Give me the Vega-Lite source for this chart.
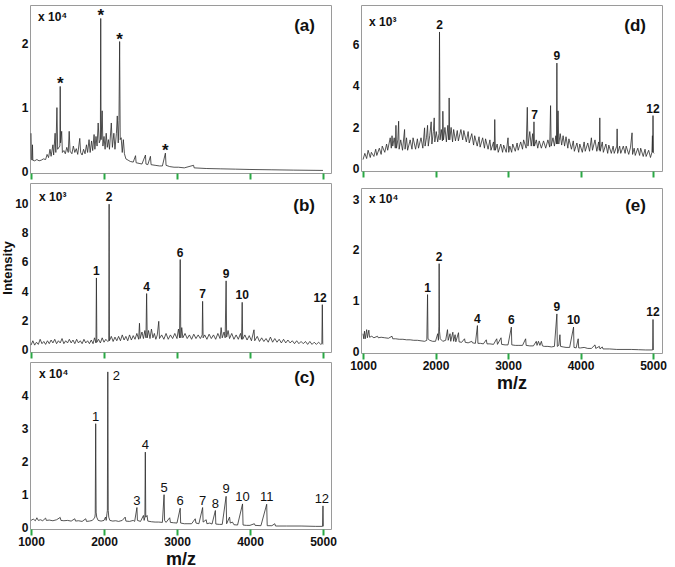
{
"$schema": "https://vega.github.io/schema/vega-lite/v6.json",
"padding": {"left": 1, "top": 4, "right": 5, "bottom": 2},
"background": "white",
"datasets": {
"a": [{"mz":1000,"y":0.6},{"mz":1005,"y":0.2},{"mz":1015,"y":0.18},{"mz":1020,"y":0.42},{"mz":1025,"y":0.18},{"mz":1050,"y":0.17},{"mz":1080,"y":0.19},{"mz":1110,"y":0.17},{"mz":1140,"y":0.18},{"mz":1170,"y":0.2},{"mz":1200,"y":0.19},{"mz":1220,"y":0.27},{"mz":1240,"y":0.22},{"mz":1260,"y":0.35},{"mz":1275,"y":0.24},{"mz":1300,"y":0.42},{"mz":1310,"y":0.26},{"mz":1330,"y":0.6},{"mz":1340,"y":0.3},{"mz":1355,"y":1.0},{"mz":1365,"y":0.35},{"mz":1395,"y":0.4},{"mz":1400,"y":1.33},{"mz":1405,"y":0.45},{"mz":1420,"y":0.63},{"mz":1430,"y":0.3},{"mz":1450,"y":0.33},{"mz":1470,"y":0.28},{"mz":1490,"y":0.38},{"mz":1510,"y":0.3},{"mz":1523,"y":0.63},{"mz":1535,"y":0.32},{"mz":1560,"y":0.28},{"mz":1580,"y":0.4},{"mz":1600,"y":0.3},{"mz":1620,"y":0.36},{"mz":1640,"y":0.27},{"mz":1668,"y":0.52},{"mz":1680,"y":0.3},{"mz":1700,"y":0.26},{"mz":1720,"y":0.35},{"mz":1740,"y":0.28},{"mz":1760,"y":0.42},{"mz":1775,"y":0.3},{"mz":1795,"y":0.5},{"mz":1810,"y":0.3},{"mz":1830,"y":0.48},{"mz":1845,"y":0.33},{"mz":1864,"y":0.58},{"mz":1875,"y":0.35},{"mz":1890,"y":0.55},{"mz":1905,"y":0.4},{"mz":1920,"y":0.76},{"mz":1935,"y":0.45},{"mz":1950,"y":0.5},{"mz":1955,"y":2.39},{"mz":1960,"y":0.5},{"mz":1975,"y":0.95},{"mz":1985,"y":0.4},{"mz":2000,"y":0.55},{"mz":2015,"y":0.35},{"mz":2030,"y":0.6},{"mz":2045,"y":0.38},{"mz":2060,"y":0.5},{"mz":2075,"y":0.35},{"mz":2100,"y":0.76},{"mz":2115,"y":0.38},{"mz":2135,"y":0.6},{"mz":2150,"y":0.35},{"mz":2170,"y":0.6},{"mz":2182,"y":0.87},{"mz":2195,"y":0.45},{"mz":2205,"y":0.8},{"mz":2214,"y":2.03},{"mz":2222,"y":0.5},{"mz":2235,"y":0.53},{"mz":2250,"y":0.3},{"mz":2265,"y":0.5},{"mz":2280,"y":0.28},{"mz":2300,"y":0.2},{"mz":2330,"y":0.18},{"mz":2360,"y":0.16},{"mz":2400,"y":0.15},{"mz":2432,"y":0.25},{"mz":2440,"y":0.14},{"mz":2480,"y":0.13},{"mz":2520,"y":0.12},{"mz":2568,"y":0.26},{"mz":2575,"y":0.12},{"mz":2600,"y":0.11},{"mz":2636,"y":0.24},{"mz":2645,"y":0.11},{"mz":2700,"y":0.1},{"mz":2760,"y":0.09},{"mz":2800,"y":0.09},{"mz":2841,"y":0.29},{"mz":2850,"y":0.1},{"mz":2900,"y":0.08},{"mz":2960,"y":0.07},{"mz":3020,"y":0.07},{"mz":3100,"y":0.06},{"mz":3227,"y":0.1},{"mz":3235,"y":0.06},{"mz":3400,"y":0.05},{"mz":3600,"y":0.045},{"mz":3800,"y":0.04},{"mz":4000,"y":0.035},{"mz":4300,"y":0.03},{"mz":4600,"y":0.025},{"mz":5000,"y":0.02}],
"aL": [{"mz":1400,"y":1.33,"t":"*"},{"mz":1955,"y":2.39,"t":"*"},{"mz":2214,"y":2.03,"t":"*"},{"mz":2841,"y":0.29,"t":"*"}],
"b": [{"mz":1000,"y":0.3},{"mz":1025,"y":0.6},{"mz":1050,"y":0.3},{"mz":1075,"y":0.5},{"mz":1100,"y":0.35},{"mz":1125,"y":0.7},{"mz":1150,"y":0.4},{"mz":1175,"y":0.55},{"mz":1200,"y":0.35},{"mz":1225,"y":0.6},{"mz":1250,"y":0.4},{"mz":1275,"y":0.65},{"mz":1300,"y":0.45},{"mz":1325,"y":0.7},{"mz":1350,"y":0.4},{"mz":1375,"y":0.6},{"mz":1400,"y":0.45},{"mz":1425,"y":0.75},{"mz":1450,"y":0.4},{"mz":1475,"y":0.6},{"mz":1500,"y":0.45},{"mz":1525,"y":0.7},{"mz":1550,"y":0.45},{"mz":1575,"y":0.65},{"mz":1600,"y":0.4},{"mz":1625,"y":0.7},{"mz":1650,"y":0.45},{"mz":1675,"y":0.6},{"mz":1700,"y":0.4},{"mz":1725,"y":0.7},{"mz":1750,"y":0.45},{"mz":1775,"y":0.6},{"mz":1800,"y":0.4},{"mz":1825,"y":0.65},{"mz":1850,"y":0.4},{"mz":1870,"y":0.8},{"mz":1890,"y":0.45},{"mz":1896,"y":4.9},{"mz":1902,"y":0.5},{"mz":1925,"y":0.7},{"mz":1950,"y":0.45},{"mz":1975,"y":0.8},{"mz":2000,"y":0.5},{"mz":2025,"y":0.7},{"mz":2050,"y":0.55},{"mz":2065,"y":0.6},{"mz":2070,"y":9.95},{"mz":2075,"y":0.6},{"mz":2100,"y":0.9},{"mz":2125,"y":0.55},{"mz":2150,"y":0.85},{"mz":2175,"y":0.6},{"mz":2200,"y":0.9},{"mz":2225,"y":0.6},{"mz":2250,"y":1.0},{"mz":2275,"y":0.65},{"mz":2300,"y":0.9},{"mz":2325,"y":0.6},{"mz":2350,"y":1.0},{"mz":2375,"y":0.65},{"mz":2400,"y":0.95},{"mz":2425,"y":0.7},{"mz":2450,"y":1.1},{"mz":2475,"y":0.7},{"mz":2486,"y":1.8},{"mz":2495,"y":0.75},{"mz":2520,"y":1.2},{"mz":2540,"y":0.75},{"mz":2560,"y":1.3},{"mz":2575,"y":0.8},{"mz":2584,"y":3.83},{"mz":2592,"y":0.8},{"mz":2610,"y":1.3},{"mz":2630,"y":0.75},{"mz":2650,"y":1.4},{"mz":2670,"y":0.8},{"mz":2690,"y":1.1},{"mz":2710,"y":0.7},{"mz":2730,"y":1.0},{"mz":2750,"y":1.93},{"mz":2760,"y":0.75},{"mz":2790,"y":1.0},{"mz":2820,"y":0.7},{"mz":2850,"y":1.1},{"mz":2880,"y":0.7},{"mz":2910,"y":1.0},{"mz":2940,"y":0.75},{"mz":2970,"y":1.1},{"mz":3000,"y":0.75},{"mz":3020,"y":1.4},{"mz":3035,"y":0.8},{"mz":3044,"y":6.16},{"mz":3052,"y":0.8},{"mz":3065,"y":1.5},{"mz":3080,"y":0.8},{"mz":3110,"y":1.1},{"mz":3140,"y":0.75},{"mz":3170,"y":1.0},{"mz":3200,"y":0.7},{"mz":3230,"y":1.05},{"mz":3260,"y":0.75},{"mz":3290,"y":1.0},{"mz":3320,"y":0.75},{"mz":3345,"y":1.0},{"mz":3351,"y":3.3},{"mz":3358,"y":0.8},{"mz":3380,"y":1.0},{"mz":3410,"y":0.7},{"mz":3440,"y":1.05},{"mz":3470,"y":0.75},{"mz":3500,"y":1.0},{"mz":3530,"y":0.7},{"mz":3560,"y":1.1},{"mz":3590,"y":0.75},{"mz":3605,"y":1.5},{"mz":3620,"y":0.8},{"mz":3645,"y":1.2},{"mz":3660,"y":0.8},{"mz":3673,"y":4.7},{"mz":3680,"y":0.85},{"mz":3700,"y":1.3},{"mz":3720,"y":0.75},{"mz":3750,"y":1.1},{"mz":3780,"y":0.7},{"mz":3810,"y":1.0},{"mz":3840,"y":0.7},{"mz":3870,"y":1.1},{"mz":3885,"y":0.7},{"mz":3893,"y":3.23},{"mz":3900,"y":0.7},{"mz":3930,"y":1.0},{"mz":3960,"y":0.65},{"mz":3990,"y":0.95},{"mz":4020,"y":0.6},{"mz":4055,"y":1.35},{"mz":4065,"y":0.6},{"mz":4100,"y":0.9},{"mz":4130,"y":0.55},{"mz":4160,"y":0.8},{"mz":4190,"y":0.55},{"mz":4220,"y":0.75},{"mz":4250,"y":0.5},{"mz":4280,"y":0.85},{"mz":4310,"y":0.5},{"mz":4340,"y":0.75},{"mz":4370,"y":0.5},{"mz":4400,"y":0.7},{"mz":4430,"y":0.45},{"mz":4460,"y":0.7},{"mz":4490,"y":0.45},{"mz":4520,"y":0.65},{"mz":4550,"y":0.45},{"mz":4580,"y":0.6},{"mz":4610,"y":0.4},{"mz":4640,"y":0.6},{"mz":4670,"y":0.4},{"mz":4700,"y":0.55},{"mz":4730,"y":0.4},{"mz":4760,"y":0.55},{"mz":4790,"y":0.35},{"mz":4820,"y":0.55},{"mz":4850,"y":0.35},{"mz":4880,"y":0.5},{"mz":4910,"y":0.35},{"mz":4940,"y":0.5},{"mz":4970,"y":0.35},{"mz":4985,"y":0.4},{"mz":4991,"y":3.07},{"mz":4997,"y":0.4},{"mz":5000,"y":0.35}],
"bL": [{"mz":1896,"y":4.9,"t":"1"},{"mz":2070,"y":9.95,"t":"2"},{"mz":2584,"y":3.83,"t":"4"},{"mz":3044,"y":6.16,"t":"6"},{"mz":3351,"y":3.3,"t":"7"},{"mz":3673,"y":4.7,"t":"9"},{"mz":3893,"y":3.23,"t":"10"},{"mz":4960,"y":3.07,"t":"12"}],
"c": [{"mz":1000,"y":0.2},{"mz":1030,"y":0.24},{"mz":1060,"y":0.19},{"mz":1080,"y":0.28},{"mz":1100,"y":0.2},{"mz":1130,"y":0.22},{"mz":1160,"y":0.19},{"mz":1200,"y":0.27},{"mz":1210,"y":0.2},{"mz":1250,"y":0.21},{"mz":1300,"y":0.19},{"mz":1350,"y":0.22},{"mz":1400,"y":0.29},{"mz":1410,"y":0.2},{"mz":1450,"y":0.19},{"mz":1500,"y":0.2},{"mz":1550,"y":0.18},{"mz":1600,"y":0.25},{"mz":1610,"y":0.18},{"mz":1650,"y":0.19},{"mz":1700,"y":0.17},{"mz":1750,"y":0.25},{"mz":1760,"y":0.17},{"mz":1800,"y":0.18},{"mz":1840,"y":0.2},{"mz":1860,"y":0.25},{"mz":1875,"y":0.3},{"mz":1880,"y":0.4},{"mz":1886,"y":3.13},{"mz":1892,"y":0.45},{"mz":1900,"y":0.3},{"mz":1920,"y":0.2},{"mz":1960,"y":0.18},{"mz":2000,"y":0.2},{"mz":2020,"y":0.3},{"mz":2030,"y":0.2},{"mz":2040,"y":0.4},{"mz":2046,"y":0.5},{"mz":2052,"y":4.7},{"mz":2058,"y":0.5},{"mz":2065,"y":0.3},{"mz":2080,"y":0.2},{"mz":2120,"y":0.18},{"mz":2160,"y":0.19},{"mz":2200,"y":0.17},{"mz":2250,"y":0.2},{"mz":2290,"y":0.3},{"mz":2300,"y":0.18},{"mz":2350,"y":0.17},{"mz":2400,"y":0.2},{"mz":2420,"y":0.17},{"mz":2451,"y":0.59},{"mz":2458,"y":0.2},{"mz":2500,"y":0.17},{"mz":2540,"y":0.35},{"mz":2550,"y":0.2},{"mz":2560,"y":0.3},{"mz":2566,"y":2.27},{"mz":2572,"y":0.3},{"mz":2590,"y":0.35},{"mz":2600,"y":0.18},{"mz":2650,"y":0.16},{"mz":2700,"y":0.15},{"mz":2750,"y":0.15},{"mz":2800,"y":0.14},{"mz":2823,"y":0.98},{"mz":2830,"y":0.2},{"mz":2850,"y":0.14},{"mz":2900,"y":0.28},{"mz":2910,"y":0.14},{"mz":2950,"y":0.13},{"mz":3000,"y":0.12},{"mz":3044,"y":0.57},{"mz":3050,"y":0.12},{"mz":3100,"y":0.1},{"mz":3150,"y":0.1},{"mz":3200,"y":0.1},{"mz":3250,"y":0.25},{"mz":3260,"y":0.12},{"mz":3300,"y":0.1},{"mz":3351,"y":0.59},{"mz":3358,"y":0.15},{"mz":3400,"y":0.22},{"mz":3410,"y":0.1},{"mz":3450,"y":0.12},{"mz":3480,"y":0.09},{"mz":3526,"y":0.5},{"mz":3532,"y":0.09},{"mz":3580,"y":0.08},{"mz":3620,"y":0.08},{"mz":3673,"y":0.93},{"mz":3680,"y":0.1},{"mz":3720,"y":0.3},{"mz":3730,"y":0.12},{"mz":3760,"y":0.15},{"mz":3780,"y":0.07},{"mz":3830,"y":0.06},{"mz":3898,"y":0.7},{"mz":3905,"y":0.06},{"mz":3950,"y":0.05},{"mz":4000,"y":0.05},{"mz":4060,"y":0.1},{"mz":4070,"y":0.05},{"mz":4150,"y":0.04},{"mz":4229,"y":0.69},{"mz":4236,"y":0.04},{"mz":4300,"y":0.04},{"mz":4340,"y":0.1},{"mz":4350,"y":0.03},{"mz":4500,"y":0.03},{"mz":4700,"y":0.03},{"mz":4900,"y":0.02},{"mz":4994,"y":0.02},{"mz":5000,"y":0.64},{"mz":5005,"y":0.02}],
"cL": [{"mz":1886,"y":3.13,"t":"1"},{"mz":2052,"y":4.7,"t":"2"},{"mz":2451,"y":0.59,"t":"3"},{"mz":2566,"y":2.27,"t":"4"},{"mz":2823,"y":0.98,"t":"5"},{"mz":3044,"y":0.57,"t":"6"},{"mz":3351,"y":0.59,"t":"7"},{"mz":3526,"y":0.5,"t":"8"},{"mz":3673,"y":0.93,"t":"9"},{"mz":3898,"y":0.7,"t":"10"},{"mz":4229,"y":0.69,"t":"11"},{"mz":4985,"y":0.64,"t":"12"}],
"d": [{"mz":1000,"y":0.45},{"mz":1025,"y":0.75},{"mz":1050,"y":0.5},{"mz":1070,"y":0.9},{"mz":1100,"y":0.55},{"mz":1115,"y":0.8},{"mz":1150,"y":0.6},{"mz":1175,"y":0.95},{"mz":1190,"y":0.65},{"mz":1225,"y":1.0},{"mz":1250,"y":0.7},{"mz":1265,"y":1.1},{"mz":1300,"y":0.8},{"mz":1325,"y":1.2},{"mz":1340,"y":0.9},{"mz":1375,"y":1.5},{"mz":1390,"y":1.0},{"mz":1400,"y":1.6},{"mz":1410,"y":1.1},{"mz":1430,"y":1.5},{"mz":1445,"y":1.0},{"mz":1454,"y":2.1},{"mz":1462,"y":1.0},{"mz":1480,"y":1.4},{"mz":1491,"y":2.3},{"mz":1498,"y":0.95},{"mz":1520,"y":1.4},{"mz":1545,"y":0.9},{"mz":1573,"y":1.9},{"mz":1580,"y":0.95},{"mz":1600,"y":1.5},{"mz":1615,"y":0.9},{"mz":1650,"y":1.4},{"mz":1675,"y":0.95},{"mz":1690,"y":1.5},{"mz":1725,"y":0.95},{"mz":1750,"y":1.45},{"mz":1765,"y":1.0},{"mz":1800,"y":1.5},{"mz":1825,"y":1.0},{"mz":1849,"y":1.98},{"mz":1856,"y":1.1},{"mz":1875,"y":1.5},{"mz":1890,"y":2.1},{"mz":1900,"y":1.1},{"mz":1920,"y":1.6},{"mz":1940,"y":2.27},{"mz":1950,"y":1.2},{"mz":1970,"y":1.8},{"mz":1982,"y":2.46},{"mz":1990,"y":1.3},{"mz":2010,"y":1.8},{"mz":2030,"y":1.3},{"mz":2048,"y":1.7},{"mz":2055,"y":6.6},{"mz":2062,"y":1.4},{"mz":2080,"y":1.9},{"mz":2095,"y":1.35},{"mz":2101,"y":2.78},{"mz":2110,"y":1.4},{"mz":2130,"y":2.0},{"mz":2150,"y":1.3},{"mz":2170,"y":2.1},{"mz":2182,"y":1.4},{"mz":2188,"y":3.42},{"mz":2196,"y":1.4},{"mz":2215,"y":2.0},{"mz":2235,"y":1.3},{"mz":2250,"y":1.9},{"mz":2275,"y":1.35},{"mz":2300,"y":1.85},{"mz":2315,"y":1.35},{"mz":2350,"y":1.9},{"mz":2375,"y":1.4},{"mz":2390,"y":1.85},{"mz":2425,"y":1.3},{"mz":2450,"y":1.8},{"mz":2465,"y":1.25},{"mz":2500,"y":1.7},{"mz":2525,"y":1.15},{"mz":2540,"y":1.6},{"mz":2575,"y":1.1},{"mz":2600,"y":1.55},{"mz":2615,"y":1.05},{"mz":2650,"y":1.5},{"mz":2675,"y":1.0},{"mz":2690,"y":1.45},{"mz":2725,"y":0.95},{"mz":2750,"y":1.4},{"mz":2765,"y":0.9},{"mz":2800,"y":1.3},{"mz":2810,"y":0.9},{"mz":2817,"y":2.38},{"mz":2825,"y":0.9},{"mz":2850,"y":1.2},{"mz":2865,"y":0.8},{"mz":2900,"y":1.2},{"mz":2925,"y":0.8},{"mz":2940,"y":1.15},{"mz":2975,"y":0.8},{"mz":3000,"y":1.5},{"mz":3010,"y":0.8},{"mz":3025,"y":1.1},{"mz":3050,"y":0.8},{"mz":3065,"y":1.2},{"mz":3100,"y":0.85},{"mz":3125,"y":1.25},{"mz":3140,"y":0.9},{"mz":3175,"y":1.3},{"mz":3200,"y":0.95},{"mz":3215,"y":1.4},{"mz":3250,"y":1.0},{"mz":3266,"y":2.97},{"mz":3275,"y":1.1},{"mz":3300,"y":1.8},{"mz":3320,"y":1.1},{"mz":3340,"y":1.7},{"mz":3350,"y":1.1},{"mz":3358,"y":2.27},{"mz":3365,"y":1.1},{"mz":3390,"y":1.4},{"mz":3410,"y":1.0},{"mz":3430,"y":1.35},{"mz":3460,"y":1.0},{"mz":3490,"y":1.35},{"mz":3520,"y":1.0},{"mz":3550,"y":1.4},{"mz":3575,"y":1.05},{"mz":3587,"y":3.05},{"mz":3595,"y":1.1},{"mz":3620,"y":1.5},{"mz":3640,"y":1.1},{"mz":3660,"y":1.6},{"mz":3668,"y":1.2},{"mz":3674,"y":5.1},{"mz":3680,"y":1.2},{"mz":3690,"y":2.8},{"mz":3700,"y":1.2},{"mz":3720,"y":1.7},{"mz":3740,"y":1.15},{"mz":3760,"y":1.6},{"mz":3780,"y":1.1},{"mz":3800,"y":1.55},{"mz":3825,"y":1.0},{"mz":3840,"y":1.45},{"mz":3875,"y":0.95},{"mz":3900,"y":1.35},{"mz":3915,"y":0.85},{"mz":3950,"y":1.25},{"mz":3975,"y":0.8},{"mz":3990,"y":1.2},{"mz":4025,"y":0.8},{"mz":4050,"y":1.3},{"mz":4065,"y":0.85},{"mz":4100,"y":1.25},{"mz":4125,"y":0.85},{"mz":4150,"y":1.5},{"mz":4165,"y":0.9},{"mz":4200,"y":1.4},{"mz":4225,"y":0.85},{"mz":4250,"y":1.3},{"mz":4260,"y":0.9},{"mz":4266,"y":2.46},{"mz":4272,"y":0.85},{"mz":4300,"y":1.3},{"mz":4315,"y":0.8},{"mz":4350,"y":1.2},{"mz":4375,"y":0.75},{"mz":4390,"y":1.15},{"mz":4425,"y":0.75},{"mz":4450,"y":1.1},{"mz":4465,"y":0.75},{"mz":4500,"y":1.1},{"mz":4505,"y":1.93},{"mz":4512,"y":0.75},{"mz":4540,"y":1.1},{"mz":4555,"y":0.75},{"mz":4590,"y":1.1},{"mz":4615,"y":0.75},{"mz":4630,"y":1.1},{"mz":4665,"y":0.7},{"mz":4690,"y":1.05},{"mz":4711,"y":1.74},{"mz":4718,"y":0.7},{"mz":4740,"y":1.0},{"mz":4755,"y":0.65},{"mz":4790,"y":1.0},{"mz":4815,"y":0.65},{"mz":4830,"y":1.0},{"mz":4865,"y":0.6},{"mz":4890,"y":0.95},{"mz":4905,"y":0.6},{"mz":4940,"y":0.9},{"mz":4965,"y":0.55},{"mz":4985,"y":0.8},{"mz":4992,"y":1.6},{"mz":4996,"y":0.8},{"mz":5000,"y":2.57},{"mz":5005,"y":0.8},{"mz":5015,"y":0.75}],
"dL": [{"mz":2055,"y":6.6,"t":"2"},{"mz":3365,"y":2.27,"t":"7"},{"mz":3674,"y":5.1,"t":"9"},{"mz":5000,"y":2.57,"t":"12"}],
"e": [{"mz":1000,"y":0.35},{"mz":1010,"y":0.25},{"mz":1020,"y":0.4},{"mz":1030,"y":0.25},{"mz":1050,"y":0.43},{"mz":1060,"y":0.27},{"mz":1080,"y":0.42},{"mz":1090,"y":0.28},{"mz":1120,"y":0.3},{"mz":1150,"y":0.27},{"mz":1200,"y":0.3},{"mz":1210,"y":0.27},{"mz":1250,"y":0.28},{"mz":1300,"y":0.27},{"mz":1350,"y":0.26},{"mz":1400,"y":0.3},{"mz":1410,"y":0.25},{"mz":1450,"y":0.25},{"mz":1500,"y":0.24},{"mz":1550,"y":0.24},{"mz":1600,"y":0.23},{"mz":1650,"y":0.23},{"mz":1700,"y":0.22},{"mz":1750,"y":0.22},{"mz":1800,"y":0.21},{"mz":1850,"y":0.2},{"mz":1880,"y":0.22},{"mz":1890,"y":1.12},{"mz":1896,"y":0.25},{"mz":1920,"y":0.22},{"mz":1960,"y":0.2},{"mz":2000,"y":0.2},{"mz":2030,"y":0.35},{"mz":2040,"y":0.22},{"mz":2046,"y":0.5},{"mz":2050,"y":1.73},{"mz":2055,"y":0.4},{"mz":2065,"y":0.25},{"mz":2100,"y":0.2},{"mz":2140,"y":0.22},{"mz":2165,"y":0.43},{"mz":2175,"y":0.22},{"mz":2200,"y":0.35},{"mz":2210,"y":0.2},{"mz":2239,"y":0.38},{"mz":2250,"y":0.2},{"mz":2270,"y":0.33},{"mz":2280,"y":0.19},{"mz":2317,"y":0.37},{"mz":2325,"y":0.19},{"mz":2360,"y":0.18},{"mz":2400,"y":0.25},{"mz":2410,"y":0.18},{"mz":2450,"y":0.17},{"mz":2500,"y":0.2},{"mz":2510,"y":0.17},{"mz":2550,"y":0.16},{"mz":2578,"y":0.51},{"mz":2585,"y":0.16},{"mz":2620,"y":0.16},{"mz":2660,"y":0.15},{"mz":2700,"y":0.23},{"mz":2710,"y":0.15},{"mz":2750,"y":0.15},{"mz":2800,"y":0.14},{"mz":2844,"y":0.25},{"mz":2855,"y":0.14},{"mz":2904,"y":0.27},{"mz":2912,"y":0.14},{"mz":2960,"y":0.13},{"mz":3000,"y":0.13},{"mz":3046,"y":0.48},{"mz":3052,"y":0.13},{"mz":3100,"y":0.12},{"mz":3150,"y":0.12},{"mz":3200,"y":0.12},{"mz":3243,"y":0.25},{"mz":3250,"y":0.12},{"mz":3300,"y":0.11},{"mz":3350,"y":0.11},{"mz":3390,"y":0.2},{"mz":3400,"y":0.12},{"mz":3420,"y":0.2},{"mz":3440,"y":0.12},{"mz":3460,"y":0.2},{"mz":3475,"y":0.11},{"mz":3500,"y":0.1},{"mz":3550,"y":0.1},{"mz":3600,"y":0.09},{"mz":3640,"y":0.1},{"mz":3674,"y":0.74},{"mz":3680,"y":0.1},{"mz":3700,"y":0.12},{"mz":3716,"y":0.33},{"mz":3725,"y":0.1},{"mz":3760,"y":0.09},{"mz":3800,"y":0.08},{"mz":3850,"y":0.08},{"mz":3904,"y":0.48},{"mz":3910,"y":0.08},{"mz":3940,"y":0.07},{"mz":3968,"y":0.25},{"mz":3975,"y":0.07},{"mz":4000,"y":0.07},{"mz":4050,"y":0.08},{"mz":4100,"y":0.06},{"mz":4150,"y":0.06},{"mz":4200,"y":0.13},{"mz":4210,"y":0.06},{"mz":4260,"y":0.1},{"mz":4270,"y":0.05},{"mz":4300,"y":0.09},{"mz":4310,"y":0.05},{"mz":4400,"y":0.05},{"mz":4500,"y":0.04},{"mz":4600,"y":0.04},{"mz":4700,"y":0.04},{"mz":4800,"y":0.035},{"mz":4900,"y":0.03},{"mz":4995,"y":0.03},{"mz":5000,"y":0.63},{"mz":5005,"y":0.03}],
"eL": [{"mz":1890,"y":1.12,"t":"1"},{"mz":2050,"y":1.73,"t":"2"},{"mz":2578,"y":0.51,"t":"4"},{"mz":3046,"y":0.48,"t":"6"},{"mz":3674,"y":0.74,"t":"9"},{"mz":3904,"y":0.48,"t":"10"},{"mz":5000,"y":0.63,"t":"12"}]
},
"hconcat": [
{"vconcat": [
 {"width": 301, "height": 168,
  "encoding": {
   "x": {"field": "mz", "type": "quantitative", "scale": {"domain": [986, 5110], "nice": false, "zero": false}, "axis": {"values": [1000,2000,3000,4000,5000], "labels": false, "title": null}},
   "y": {"field": "y", "type": "quantitative", "scale": {"domain": [-0.02, 2.6], "nice": false, "zero": false}, "axis": {"values": [0,1,2], "format": "d", "title": null}}
  },
  "layer": [
   {"data": {"name": "a"}, "mark": {"type": "line", "clip": true}},
   {"data": {"name": "aL"}, "mark": {"type": "text", "fontSize": 17, "baseline": "alphabetic", "dy": 3}, "encoding": {"text": {"field": "t"}}},
   {"data": {"values": [{"mz": 1095, "y": 2.41, "t": "x 10⁴"}]}, "mark": {"type": "text", "align": "left", "baseline": "middle"}, "encoding": {"text": {"field": "t"}}},
   {"data": {"values": [{"mz": 4890, "y": 2.27, "t": "(a)"}]}, "mark": {"type": "text", "align": "right", "baseline": "middle", "fontSize": 17}, "encoding": {"text": {"field": "t"}}}
  ]},
 {"width": 301, "height": 169,
  "encoding": {
   "x": {"field": "mz", "type": "quantitative", "scale": {"domain": [986, 5110], "nice": false, "zero": false}, "axis": {"values": [1000,2000,3000,4000,5000], "labels": false, "title": null}},
   "y": {"field": "y", "type": "quantitative", "scale": {"domain": [-0.17, 11.4], "nice": false, "zero": false}, "axis": {"values": [0,2,4,6,8,10], "format": "d", "title": "Intensity"}}
  },
  "layer": [
   {"data": {"name": "b"}, "mark": {"type": "line", "clip": true}},
   {"data": {"name": "bL"}, "mark": {"type": "text", "baseline": "alphabetic", "dy": -3}, "encoding": {"text": {"field": "t"}}},
   {"data": {"values": [{"mz": 1110, "y": 10.44, "t": "x 10³"}]}, "mark": {"type": "text", "align": "left", "baseline": "middle"}, "encoding": {"text": {"field": "t"}}},
   {"data": {"values": [{"mz": 4890, "y": 9.82, "t": "(b)"}]}, "mark": {"type": "text", "align": "right", "baseline": "middle", "fontSize": 17}, "encoding": {"text": {"field": "t"}}}
  ]},
 {"width": 301, "height": 167,
  "encoding": {
   "x": {"field": "mz", "type": "quantitative", "scale": {"domain": [986, 5110], "nice": false, "zero": false}, "axis": {"values": [1000,2000,3000,4000,5000], "format": "d", "title": "m/z"}},
   "y": {"field": "y", "type": "quantitative", "scale": {"domain": [-0.06, 5.0], "nice": false, "zero": false}, "axis": {"values": [0,1,2,3,4], "format": "d", "title": null}}
  },
  "layer": [
   {"data": {"name": "c"}, "mark": {"type": "line", "clip": true}},
   {"data": {"name": "cL"}, "transform": [{"filter": "datum.t != '2'"}], "mark": {"type": "text", "baseline": "alphabetic", "dy": -3, "fontWeight": "normal", "fontSize": 13}, "encoding": {"text": {"field": "t"}}},
   {"data": {"name": "cL"}, "transform": [{"filter": "datum.t == '2'"}], "mark": {"type": "text", "align": "left", "baseline": "middle", "dx": 5, "dy": 4, "fontWeight": "normal", "fontSize": 13}, "encoding": {"text": {"field": "t"}}},
   {"data": {"values": [{"mz": 1110, "y": 4.64, "t": "x 10⁴"}]}, "mark": {"type": "text", "align": "left", "baseline": "middle"}, "encoding": {"text": {"field": "t"}}},
   {"data": {"values": [{"mz": 4890, "y": 4.52, "t": "(c)"}]}, "mark": {"type": "text", "align": "right", "baseline": "middle", "fontSize": 17}, "encoding": {"text": {"field": "t"}}}
  ]}
 ], "spacing": 10, "bounds": "flush"},
{"vconcat": [
 {"width": 301, "height": 166,
  "encoding": {
   "x": {"field": "mz", "type": "quantitative", "scale": {"domain": [972, 5124], "nice": false, "zero": false}, "axis": {"values": [1000,2000,3000,4000,5000], "labels": false, "title": null}},
   "y": {"field": "y", "type": "quantitative", "scale": {"domain": [-0.1, 7.9], "nice": false, "zero": false}, "axis": {"values": [0,2,4,6], "format": "d", "title": null}}
  },
  "layer": [
   {"data": {"name": "d"}, "mark": {"type": "line", "clip": true}},
   {"data": {"name": "dL"}, "mark": {"type": "text", "baseline": "alphabetic", "dy": -3}, "encoding": {"text": {"field": "t"}}},
   {"data": {"values": [{"mz": 1083, "y": 7.08, "t": "x 10³"}]}, "mark": {"type": "text", "align": "left", "baseline": "middle"}, "encoding": {"text": {"field": "t"}}},
   {"data": {"values": [{"mz": 4903, "y": 6.89, "t": "(d)"}]}, "mark": {"type": "text", "align": "right", "baseline": "middle", "fontSize": 17}, "encoding": {"text": {"field": "t"}}}
  ]},
 {"width": 301, "height": 165,
  "encoding": {
   "x": {"field": "mz", "type": "quantitative", "scale": {"domain": [972, 5124], "nice": false, "zero": false}, "axis": {"values": [1000,2000,3000,4000,5000], "format": "d", "title": "m/z"}},
   "y": {"field": "y", "type": "quantitative", "scale": {"domain": [-0.03, 3.22], "nice": false, "zero": false}, "axis": {"values": [0,1,2,3], "format": "d", "title": null}}
  },
  "layer": [
   {"data": {"name": "e"}, "mark": {"type": "line", "clip": true}},
   {"data": {"name": "eL"}, "mark": {"type": "text", "baseline": "alphabetic", "dy": -3}, "encoding": {"text": {"field": "t"}}},
   {"data": {"values": [{"mz": 1083, "y": 3.01, "t": "x 10⁴"}]}, "mark": {"type": "text", "align": "left", "baseline": "middle"}, "encoding": {"text": {"field": "t"}}},
   {"data": {"values": [{"mz": 4903, "y": 2.86, "t": "(e)"}]}, "mark": {"type": "text", "align": "right", "baseline": "middle", "fontSize": 17}, "encoding": {"text": {"field": "t"}}}
  ]}
 ], "spacing": 17, "bounds": "flush"}
],
"spacing": 12,
"config": {
 "font": "Liberation Sans",
 "view": {"stroke": "#9a9a9a", "strokeWidth": 1},
 "axis": {"grid": false, "domain": false, "labelFont": "Liberation Sans", "labelFontWeight": "bold", "labelFontSize": 12, "labelColor": "#111", "titleFont": "Liberation Sans", "titleFontWeight": "bold", "titleColor": "#111"},
 "axisX": {"tickColor": "#2aa845", "tickWidth": 2, "tickSize": 6, "labelPadding": 1, "titleFontSize": 18, "titlePadding": 3, "labelFlush": false},
 "axisY": {"ticks": false, "labelPadding": 2, "titleFontSize": 13, "titlePadding": 0},
 "text": {"font": "Liberation Sans", "fontWeight": "bold", "fontSize": 12, "color": "#111"},
 "line": {"color": "#2b2b2b", "strokeWidth": 0.8}
}
}
